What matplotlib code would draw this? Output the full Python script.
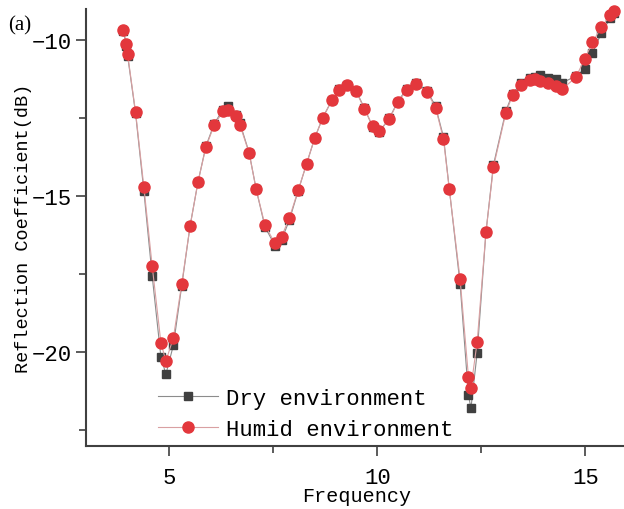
import matplotlib
matplotlib.use("Agg")
import matplotlib.pyplot as plt
from matplotlib.ticker import MultipleLocator

# frequency points (shared by both series)
freq = [3.90, 3.97, 4.00, 4.19, 4.39, 4.59, 4.80, 4.92, 5.10, 5.30,
        5.50, 5.69, 5.88, 6.08, 6.29, 6.41, 6.61, 6.70, 6.92, 7.09,
        7.30, 7.54, 7.70, 7.89, 8.10, 8.30, 8.50, 8.69, 8.91, 9.09,
        9.28, 9.49, 9.69, 9.89, 10.05, 10.29, 10.49, 10.71, 10.93, 11.20,
        11.40, 11.59, 11.73, 11.99, 12.19, 12.25, 12.40, 12.61, 12.79, 13.09,
        13.25, 13.45, 13.66, 13.79, 13.90, 14.09, 14.29, 14.45, 14.77, 14.98,
        15.17, 15.38, 15.60, 15.68]

dry = [-9.72, -10.18, -10.50, -12.33, -14.83, -17.55, -20.15, -20.70, -19.77, -17.87,
       -15.96, -14.55, -13.40, -12.68, -12.22, -12.10, -12.38, -12.66, -13.60, -14.78,
       -15.98, -16.58, -16.40, -15.75, -14.82, -13.96, -13.12, -12.48, -11.92, -11.55,
       -11.42, -11.62, -12.18, -12.78, -12.93, -12.50, -11.97, -11.55, -11.36, -11.62,
       -12.12, -13.10, -14.76, -17.82, -21.37, -21.79, -20.01, -16.16, -14.00, -12.26,
       -11.72, -11.38, -11.22, -11.18, -11.13, -11.20, -11.24, -11.36, -11.15, -10.93,
       -10.42, -9.78, -9.29, -9.12]

humid = [-9.67, -10.12, -10.45, -12.29, -14.69, -17.23, -19.69, -20.28, -19.53, -17.81,
         -15.96, -14.55, -13.43, -12.72, -12.28, -12.24, -12.44, -12.72, -13.62, -14.78,
         -15.92, -16.51, -16.29, -15.68, -14.80, -13.96, -13.12, -12.48, -11.92, -11.59,
         -11.45, -11.64, -12.20, -12.75, -12.91, -12.52, -11.99, -11.59, -11.41, -11.67,
         -12.16, -13.17, -14.78, -17.66, -20.78, -21.13, -19.66, -16.16, -14.07, -12.32,
         -11.77, -11.45, -11.29, -11.25, -11.30, -11.38, -11.48, -11.56, -11.19, -10.61,
         -10.07, -9.59, -9.19, -9.05]

labels = ["Dry environment", "Humid environment"]

mono = ["Liberation Mono", "DejaVu Sans Mono"]
plt.rcParams["font.family"] = mono

fig = plt.figure(figsize=(6.24, 5.10), dpi=100)
ax = fig.add_axes([86 / 624, 1 - 447 / 510, 541 / 624, 437 / 510])

dark = "#404040"
red = "#e3373c"

ax.plot(freq, dry, color="#8c8c8c", lw=0.8, marker="s", markersize=6.2,
        markerfacecolor=dark, markeredgecolor=dark, label=labels[0], clip_on=False)
ax.plot(freq, humid, color="#d9a0a2", lw=0.8, marker="o", markersize=8,
        markerfacecolor=red, markeredgecolor=red, label=labels[1], clip_on=False)

ax.set_xlim(3, 16)
ax.set_ylim(-23, -9)

ax.xaxis.set_major_locator(MultipleLocator(5))
ax.xaxis.set_minor_locator(MultipleLocator(2.5))
ax.yaxis.set_major_locator(MultipleLocator(5))
ax.yaxis.set_minor_locator(MultipleLocator(2.5))

for side in ["top", "right"]:
    ax.spines[side].set_visible(False)
for side in ["left", "bottom"]:
    ax.spines[side].set_color(dark)
    ax.spines[side].set_linewidth(1.5)

ax.tick_params(which="major", direction="out", length=7, width=1.2, color=dark,
               labelsize=16)
ax.tick_params(axis="x", which="major", pad=8)
ax.tick_params(axis="y", which="major", pad=3)
ax.tick_params(which="minor", direction="out", length=5, width=1.2, color=dark)

ax.set_xlabel("Frequency", fontsize=14.5, labelpad=-1)
ax.set_ylabel("Reflection Coefficient(dB)", fontsize=13.3, labelpad=0)

leg = ax.legend(loc="lower left", bbox_to_anchor=(0.117, -0.006), frameon=False,
                fontsize=16, handlelength=2.7, handletextpad=0.35,
                labelspacing=0.45, borderaxespad=0.0)

fig.text(8 / 624, 1 - 30 / 510, "(a)", fontsize=15, family="Liberation Serif")

fig.savefig("out.png", dpi=100)
